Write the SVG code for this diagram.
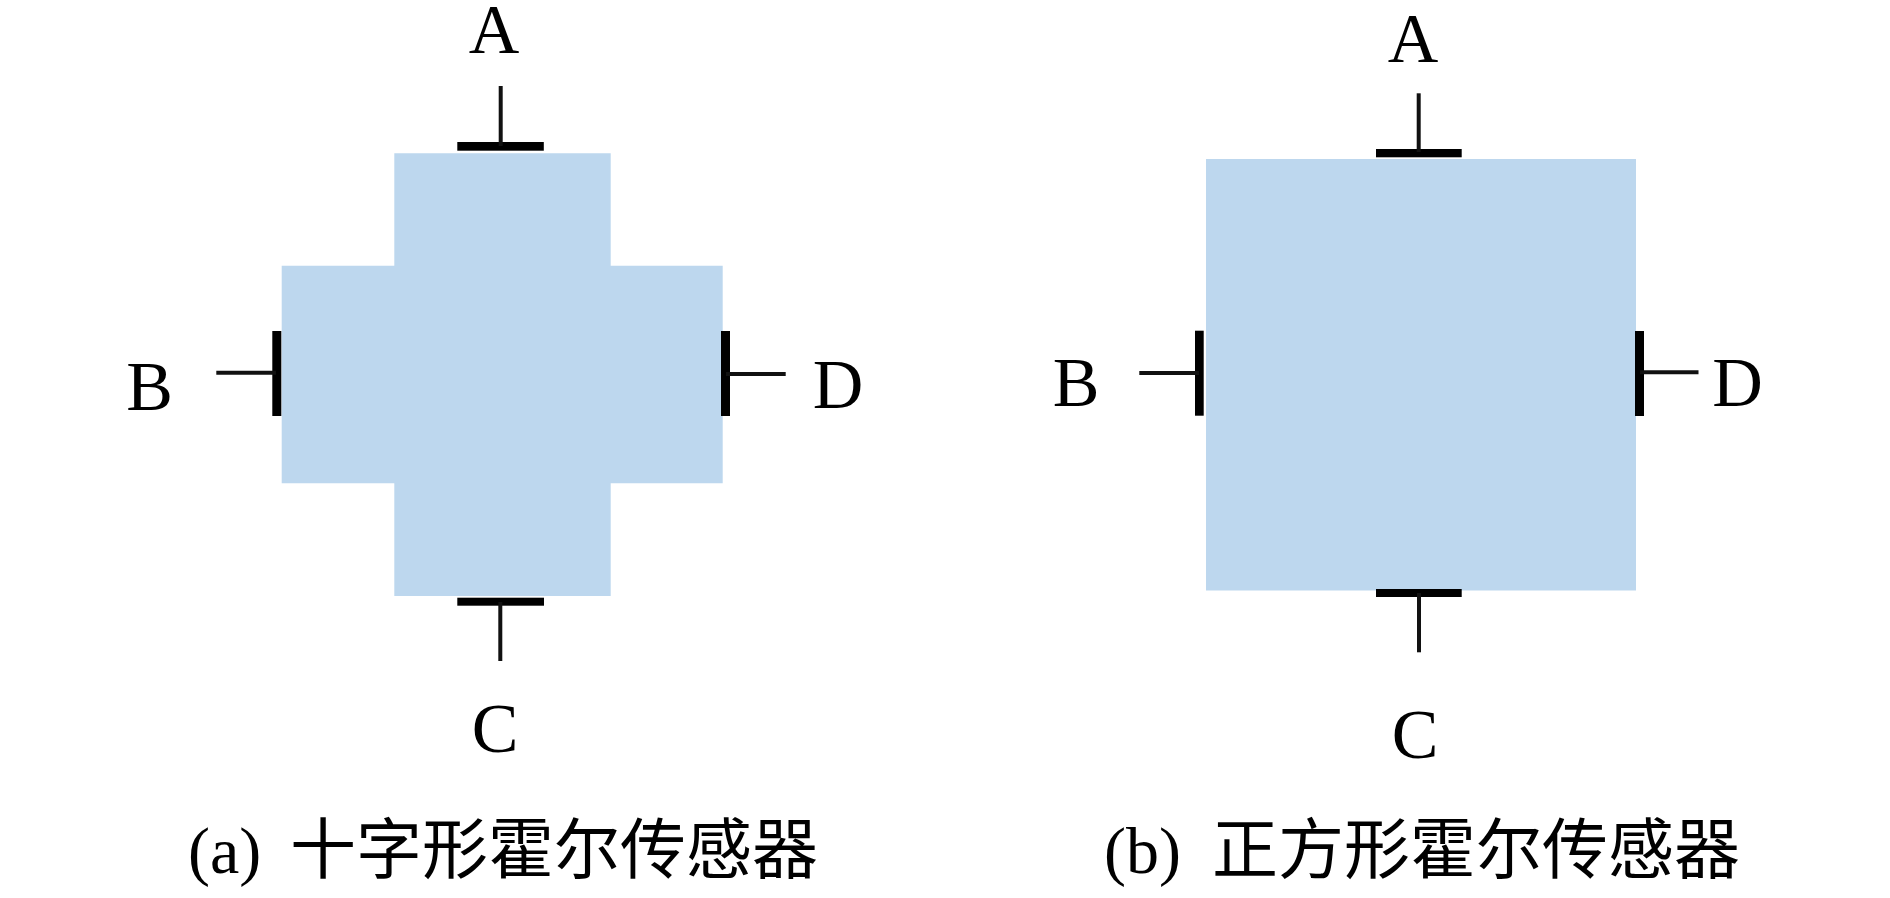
<svg xmlns="http://www.w3.org/2000/svg" width="1890" height="898" viewBox="0 0 1890 898">
<style>
  .plate { fill: #BDD7EE; stroke: none; }
  .electrode { fill: #000000; stroke: none; }
  .lead { stroke: #111111; stroke-width: 4; fill: none; stroke-linecap: butt; }
  .lbl { font-family: "Liberation Serif", "DejaVu Serif", serif; font-size: 70px; fill: #000000; text-anchor: middle; }
  .cap { font-size: 66px; fill: #000000; }
  .cap-lat { font-family: "Liberation Serif", "DejaVu Serif", serif; }
  .cap-cjk { font-family: "Noto Sans CJK SC", "Noto Sans CJK TC", sans-serif; }
</style>
<rect x="0" y="0" width="1890" height="898" fill="#ffffff"/>

<!-- (a) cross-shaped Hall sensor -->
<g id="cross-sensor">
  <path class="plate" d="M394.3,153.3 H610.7 V265.7 H722.7 V483.3 H610.7 V596 H394.3 V483.3 H281.7 V265.7 H394.3 Z"/>
  <rect class="electrode" x="457.3" y="142" width="86.5" height="8.7"/>
  <rect class="electrode" x="457.3" y="597.7" width="86.7" height="8"/>
  <rect class="electrode" x="272.3" y="331" width="9" height="85"/>
  <rect class="electrode" x="721" y="331" width="9" height="85"/>
</g>

<!-- (b) square Hall sensor -->
<g id="square-sensor">
  <rect class="plate" x="1206" y="159" width="430" height="431.5"/>
  <rect class="electrode" x="1376" y="149" width="85.7" height="8.3"/>
  <rect class="electrode" x="1376" y="589" width="85.7" height="8"/>
  <rect class="electrode" x="1195" y="330.7" width="8.7" height="85"/>
  <rect class="electrode" x="1635" y="331" width="9" height="85"/>
</g>

<g id="connectors">
  <line class="lead" x1="500.7" y1="86" x2="500.7" y2="146"/>
  <line class="lead" x1="500.3" y1="602" x2="500.3" y2="661"/>
  <line class="lead" x1="216.3" y1="372.7" x2="276" y2="372.7"/>
  <line class="lead" x1="726" y1="374" x2="785.7" y2="374"/>
  <line class="lead" x1="1418.7" y1="93.3" x2="1418.7" y2="152"/>
  <line class="lead" x1="1419" y1="593" x2="1419" y2="652.3"/>
  <line class="lead" x1="1139.3" y1="373" x2="1199" y2="373"/>
  <line class="lead" x1="1640" y1="372.3" x2="1698.5" y2="372.3"/>
</g>

<g id="label-a-A"><text class="lbl" x="494" y="53.3">A</text></g>
<g id="label-a-B"><text class="lbl" x="149.5" y="410">B</text></g>
<g id="label-a-C"><text class="lbl" x="495" y="752">C</text></g>
<g id="label-a-D"><text class="lbl" x="838" y="407.5">D</text></g>

<g id="label-b-A"><text class="lbl" x="1413" y="62.3">A</text></g>
<g id="label-b-B"><text class="lbl" x="1076" y="406">B</text></g>
<g id="label-b-C"><text class="lbl" x="1415" y="758">C</text></g>
<g id="label-b-D"><text class="lbl" x="1737.5" y="405.5">D</text></g>

<g id="caption-a">
  <text class="cap" y="873"><tspan class="cap-lat" x="188">(a)</tspan><tspan class="cap-cjk" x="290">十字形霍尔传感器</tspan></text>
</g>
<g id="caption-b">
  <text class="cap" y="873"><tspan class="cap-lat" x="1104">(b)</tspan><tspan class="cap-cjk" x="1212">正方形霍尔传感器</tspan></text>
</g>
</svg>
